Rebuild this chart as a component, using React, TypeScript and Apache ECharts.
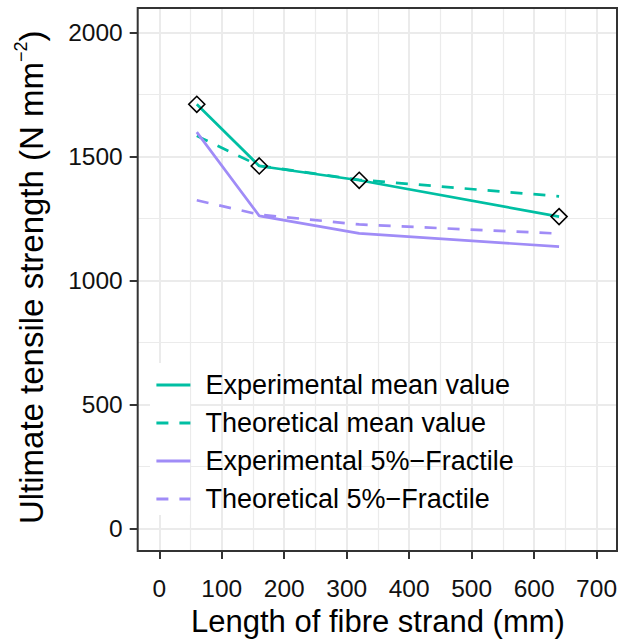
import React, { useEffect, useRef } from "react";
import * as echarts from "echarts";

const lengths = [60, 160, 320, 640];
const expMean = [1710, 1460, 1402, 1255];
const theoMean = [1582, 1461, 1404, 1337];
const exp5 = [1597, 1258, 1187, 1133];
const theo5 = [1321, 1263, 1223, 1186];
const xTicks = [0, 100, 200, 300, 400, 500, 600, 700];
const yTicks = [0, 500, 1000, 1500, 2000];

const TEAL = "#00bfa3";
const PURPLE = "#a08cf7";
const FONT = "Liberation Sans, Arial, Helvetica, sans-serif";

const names = [
  "Experimental mean value",
  "Theoretical mean value",
  "Experimental 5%\u2212Fractile",
  "Theoretical 5%\u2212Fractile",
];

const pairs = (ys: number[]) => lengths.map((x, i) => [x, ys[i]]);

export default function App() {
  const ref = useRef<HTMLDivElement>(null);
  useEffect(() => {
    document.body.style.margin = "0";
    const chart = echarts.init(ref.current!, null, { renderer: "svg" });
    const gridColor = "#ebebeb";
    const option: any = {
      animation: false,
      textStyle: { fontFamily: FONT },
      grid: [
        { left: 159.3, right: 23.2, top: 8, bottom: 92 },
        { left: 137.7, right: 3, top: 32.3, bottom: 114.7 },
      ],
      xAxis: [
        {
          type: "value",
          gridIndex: 0,
          min: xTicks[0],
          max: xTicks[xTicks.length - 1],
          interval: 100,
          axisLine: { show: false, onZero: false },
          axisTick: { show: true, inside: false, length: 8, lineStyle: { color: "#333", width: 2 } },
          axisLabel: { fontSize: 24.5, color: "#111", margin: 25, fontFamily: FONT, formatter: (v: number) => String(v) },
          splitLine: { show: true, lineStyle: { color: gridColor, width: 2 } },
          minorTick: { show: false, splitNumber: 2 },
          minorSplitLine: { show: true, lineStyle: { color: gridColor, width: 1.2 } },
          name: "Length of fibre strand (mm)",
          nameLocation: "middle",
          nameGap: 47,
          nameTextStyle: { fontSize: 31, color: "#000", fontFamily: FONT },
        },
        {
          type: "value",
          gridIndex: 1,
          min: -35,
          max: 735,
          show: false,
          axisLine: { onZero: false },
          splitLine: { show: false },
        },
      ],
      yAxis: [
        {
          type: "value",
          gridIndex: 0,
          min: -100,
          max: 2100,
          show: false,
          axisLine: { onZero: false },
          splitLine: { show: false },
        },
        {
          type: "value",
          gridIndex: 1,
          min: yTicks[0],
          max: yTicks[yTicks.length - 1],
          interval: 500,
          axisLine: { show: false, onZero: false },
          axisTick: { show: true, inside: false, length: 8, lineStyle: { color: "#333", width: 2 } },
          axisLabel: { fontSize: 24.5, color: "#111", margin: 15, fontFamily: FONT, formatter: (v: number) => String(v) },
          splitLine: { show: true, lineStyle: { color: gridColor, width: 2 } },
          minorTick: { show: false, splitNumber: 2 },
          minorSplitLine: { show: true, lineStyle: { color: gridColor, width: 1.2 } },
          name: "Ultimate tensile strength (N mm{sup|\u22122})",
          nameLocation: "middle",
          nameGap: 86,
          nameTextStyle: {
            fontSize: 33,
            color: "#000",
            fontFamily: FONT,
            lineHeight: 40,
            padding: [0, 0, 0, 6],
            rich: {
              sup: { fontSize: 18, lineHeight: 4, verticalAlign: "top", fontFamily: FONT, color: "#000" },
            },
          },
        },
      ],
      legend: {
        orient: "vertical",
        left: 150,
        top: 365,
        itemWidth: 34,
        itemHeight: 12,
        itemGap: 8,
        data: names,
        itemStyle: { opacity: 0 },
        lineStyle: { width: 2.8 },
        textStyle: { fontSize: 27, color: "#000", lineHeight: 30, padding: [0, 0, 0, 10], fontFamily: FONT },
      },
      graphic: [
        { type: "rect", z: 3, shape: { x: 150, y: 363, width: 40, height: 152 }, style: { fill: "#fff" } },
        {
          type: "rect",
          z: 20,
          shape: { x: 137.7, y: 8, width: 479.3, height: 543 },
          style: { fill: "none", stroke: "#333", lineWidth: 2 },
        },
      ],
      series: [
        {
          name: names[0],
          type: "line",
          xAxisIndex: 0,
          yAxisIndex: 0,
          data: pairs(expMean),
          symbol: "none",
          lineStyle: { color: TEAL, width: 2.7, type: "solid" },
          itemStyle: { color: TEAL },
        },
        {
          name: names[1],
          type: "line",
          xAxisIndex: 0,
          yAxisIndex: 0,
          data: pairs(theoMean),
          symbol: "none",
          lineStyle: { color: TEAL, width: 2.7, type: [12, 11] },
          itemStyle: { color: TEAL },
        },
        {
          name: names[2],
          type: "line",
          xAxisIndex: 0,
          yAxisIndex: 0,
          data: pairs(exp5),
          symbol: "none",
          lineStyle: { color: PURPLE, width: 2.7, type: "solid" },
          itemStyle: { color: PURPLE },
        },
        {
          name: names[3],
          type: "line",
          xAxisIndex: 0,
          yAxisIndex: 0,
          data: pairs(theo5),
          symbol: "none",
          lineStyle: { color: PURPLE, width: 2.7, type: [12, 11] },
          itemStyle: { color: PURPLE },
        },
        {
          name: "points",
          type: "scatter",
          xAxisIndex: 0,
          yAxisIndex: 0,
          data: pairs(expMean),
          symbol: "diamond",
          symbolSize: 16,
          z: 5,
          itemStyle: { color: "rgba(0,0,0,0)", borderColor: "#000", borderWidth: 1.6, opacity: 1 },
        },
      ],
    };
    chart.setOption(option);
    return () => chart.dispose();
  }, []);
  return <div ref={ref} style={{ width: 620, height: 643 }} />;
}
